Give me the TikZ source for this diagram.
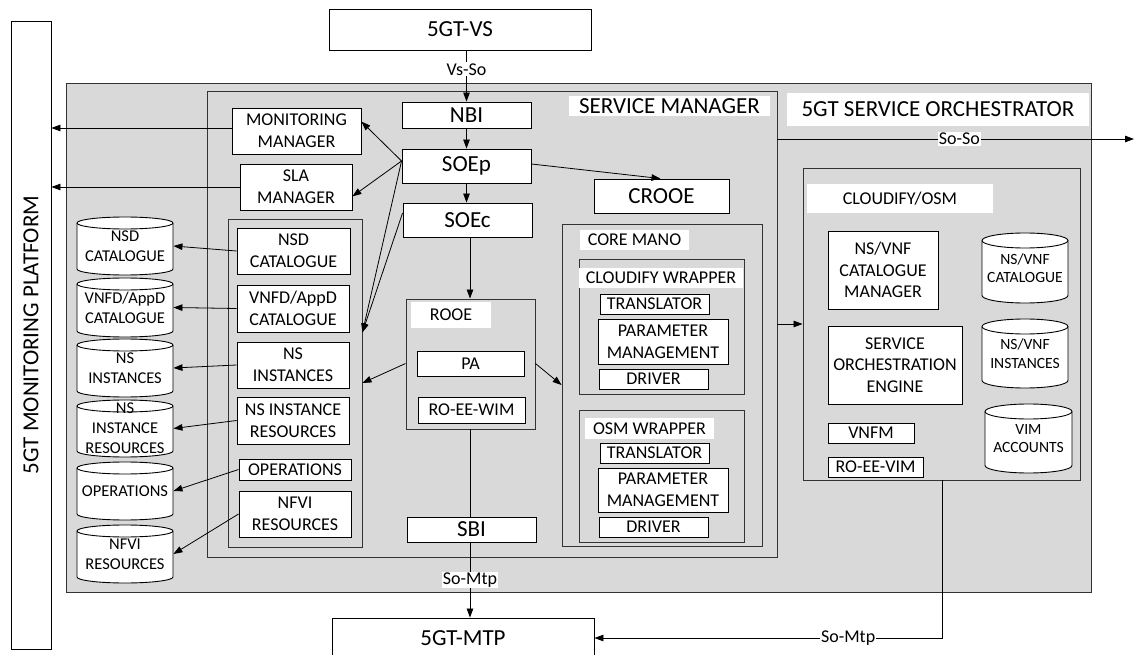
\documentclass[tikz,border=0pt]{standalone}
\usepackage{fontspec}
\setmainfont{Carlito}
\usetikzlibrary{arrows.meta,calc}
\definecolor{gfill}{HTML}{D9D9D9}
\newcommand\fsm{\fontsize{18}{21.6}\selectfont}
\newcommand\fbig{\fontsize{23}{27}\selectfont}
\newcommand\fcyl{\fontsize{16.5}{20}\selectfont}
\newcommand\fcylr{\fontsize{15.6}{18.5}\selectfont}
\tikzset{
 box/.style={draw=black, fill=white, line width=0.9pt, inner sep=0pt, align=center, font=\fsm},
 grp/.style={draw=black!80, fill=gfill},
 ttl/.style={draw=none, fill=white},
 cylst/.style={draw=black, fill=white, line width=0.9pt},
 arr/.style={-{Triangle[length=9pt,width=6.5pt]}, line width=0.8pt},
 con/.style={line width=0.8pt},
 lab/.style={fill=white, inner sep=1pt, font=\fsm},
}
\newcommand\bx[7][]{%
 \pgfmathsetmacro\bxw{#5-#3}\pgfmathsetmacro\bxh{#6-#4}%
 \node[box, minimum width=\bxw pt, minimum height=\bxh pt, #1] (#2) at ({(#3+#5)/2},{(#4+#6)/2}) {#7};}
\newcommand\cyl[8][\fcyl]{%
 \pgfmathsetmacro\cylrx{(#5-#3)/2}%
 \filldraw[cylst] (#3,#4+#7) -- (#3,#6-#7) arc[start angle=180,end angle=360,x radius=\cylrx pt,y radius=#7pt] -- (#5,#4+#7) arc[start angle=0,end angle=180,x radius=\cylrx pt,y radius=#7pt] -- cycle;
 \draw[cylst, fill=none] (#3,#4+#7) arc[start angle=180,end angle=360,x radius=\cylrx pt,y radius=#7pt];
 \bx[draw=none, fill=none, font=#1]{#2}{#3}{#4}{#5}{#6}{#8}}
\begin{document}
\begin{tikzpicture}[x=1pt,y=-1pt]
\useasboundingbox (0,0) rectangle (1136,655);
% monitoring platform
\bx{mon}{11}{21}{51}{649}{}
\node[rotate=90, font=\fbig] (montxt) at (mon.center) {5GT MONITORING PLATFORM};
\bx[font=\fbig]{vs}{329}{9}{591}{50}{5GT-VS}
\bx[font=\fbig]{mtp}{332}{618}{594}{658}{5GT-MTP}
% outer SO
\bx[grp]{so}{66}{83}{1091}{592}{}
\bx[ttl, font=\fbig]{sotitle}{787}{93}{1089}{126}{5GT SERVICE ORCHESTRATOR}
% service manager
\bx[grp]{sm}{207}{91}{777}{557}{}
\bx[ttl, font=\fbig]{smtitle}{569}{96}{770}{116}{SERVICE MANAGER}
\bx[font=\fbig]{nbi}{402}{102}{531}{128}{NBI}
\bx[font=\fbig]{soep}{402}{149}{531}{183}{SOEp}
\bx[font=\fbig]{soec}{403}{203}{532}{237}{SOEc}
\bx[font=\fbig]{crooe}{594}{179}{729}{213}{CROOE}
\bx{mm}{232}{108}{361}{154}{MONITORING\\MANAGER}
\bx{sla}{240}{164}{352}{210}{SLA\\MANAGER}
% catalogue group
\bx[grp]{grp}{228}{219}{362}{547}{}
\bx{nsdb}{237}{228}{350}{274}{NSD\\CATALOGUE}
\bx{vnfdb}{237}{285}{349}{332}{VNFD/AppD\\CATALOGUE}
\bx{nsib}{237}{342}{349}{388}{NS\\INSTANCES}
\bx{nsirb}{237}{397}{349}{444}{NS INSTANCE\\RESOURCES}
\bx{opsb}{239}{459}{351}{480}{OPERATIONS}
\bx{nfvib}{239}{491}{351}{537}{NFVI\\RESOURCES}
% cylinders left
\cyl{nsdc}{77}{217}{173}{275}{6}{NSD\\CATALOGUE}
\cyl{vnfdc}{77}{278}{173}{337}{6}{VNFD/AppD\\CATALOGUE}
\cyl{nsic}{77}{339}{173}{397}{6}{NS\\INSTANCES}
\cyl{nsirc}{77}{400}{173}{457}{6}{NS\\INSTANCE\\RESOURCES}
\cyl{opsc}{77}{462}{173}{520}{6}{OPERATIONS}
\cyl{nfvic}{77}{525}{173}{583}{6}{NFVI\\RESOURCES}
% ROOE
\bx[grp]{rooe}{406}{299}{535}{429}{}
\bx[ttl]{rooetitle}{411}{302}{491}{328}{ROOE}
\bx{pa}{417}{351}{524}{376}{PA}
\bx{roeewim}{418}{397}{525}{423}{RO-EE-WIM}
\bx[font=\fbig]{sbi}{407}{517}{536}{542}{SBI}
% core mano
\bx[grp]{cm}{562}{224}{762}{546}{}
\bx[ttl]{cmtitle}{580}{230}{689}{250}{CORE MANO}
\bx[grp]{cw}{579}{259}{744}{394}{}
\bx[ttl]{cwtitle}{579}{268}{743}{288}{CLOUDIFY WRAPPER}
\bx{tr1}{600}{294}{709}{314}{TRANSLATOR}
\bx{pm1}{598}{319}{728}{364}{PARAMETER\\MANAGEMENT}
\bx{dr1}{599}{369}{708}{389}{DRIVER}
\bx[grp]{ow}{579}{410}{744}{542}{}
\bx[ttl]{owtitle}{585}{418}{714}{439}{OSM WRAPPER}
\bx{tr2}{600}{443}{709}{463}{TRANSLATOR}
\bx{pm2}{598}{468}{728}{512}{PARAMETER\\MANAGEMENT}
\bx{dr2}{599}{517}{708}{537}{DRIVER}
% cloudify / osm
\bx[grp]{co}{803}{168}{1080}{480}{}
\bx[ttl]{cotitle}{807}{184}{993}{213}{CLOUDIFY/OSM}
\bx{catm}{828}{231}{938}{309}{NS/VNF\\CATALOGUE\\MANAGER}
\bx{soeng}{828}{326}{962}{404}{SERVICE\\ORCHESTRATION\\ENGINE}
\bx{vnfm}{828}{423}{914}{443}{VNFM}
\bx{roeevim}{828}{457}{923}{477}{RO-EE-VIM}
\cyl[\fcylr]{nvcat}{982}{233}{1068}{303}{7.5}{NS/VNF\\CATALOGUE}
\cyl[\fcylr]{nvinst}{982}{319}{1068}{388}{7.5}{NS/VNF\\INSTANCES}
\cyl[\fcylr]{vimacc}{985}{404}{1072}{473}{7.5}{VIM\\ACCOUNTS}
% connectors
\coordinate (xr) at (470,0);
\draw[arr] (nbi.north |- vs.south) -- node[lab, pos=0.37] {Vs-So} (nbi.north);
\draw[arr] (nbi.south) -- (nbi.south |- soep.north);
\draw[arr] (soep.south) -- (soep.south |- soec.north);
\draw[arr] (soec.south -| xr) -- (rooe.north -| xr);
\draw[arr] ($(soep.east)+(0,-2)$) -- ($(crooe.north)+(-1,0)$);
\coordinate (fan) at ($(soep.west)+(0,-5)$);
\draw[arr] (fan) -- ($(mm.east)!0.4!(mm.north east)$);
\draw[arr] (fan) -- ($(sla.east)!0.4!(sla.south east)$);
\draw[arr] (fan) -- (grp.east |- vnfdb.south);
\draw[arr] ($(soec.west)+(0,-7)$) -- (grp.east |- vnfdb.south);
\draw[arr] (rooe.west |- pa.west) -- (grp.east);
\draw[arr] (rooe.east |- pa.east) -- (cm.west);
\draw[arr] ($(mm.west)+(0,-3)$) -- ($(mm.west -| mon.east)+(0,-3)$);
\draw[arr] (sla.west) -- (sla.west -| mon.east);
\draw[arr] (nsdb.west) -- (nsdc.east);
\draw[arr] (vnfdb.west) -- (vnfdc.east);
\draw[arr] (nsib.west) -- (nsic.east);
\draw[arr] (nsirb.west) -- (nsirc.east);
\draw[arr] (opsb.west) -- (opsc.east);
\draw[arr] (nfvib.west) -- (nfvic.east);
\draw[con] (rooe.south -| xr) -- (sbi.north -| xr);
\draw[arr] (sbi.south -| xr) -- node[lab] {So-Mtp} (mtp.north -| xr);
\draw[arr] (sm.east |- co.west) -- (co.west);
\coordinate (soso) at (1134,139);
\draw[arr] (sm.east |- soso) -- node[lab, pos=0.51] {So-So} (soso);
\coordinate (bend) at (942,638);
\draw[arr] (co.south -| bend) -- (bend) -- node[lab, pos=0.27] {So-Mtp} (mtp.east |- bend);
\end{tikzpicture}
\end{document}
